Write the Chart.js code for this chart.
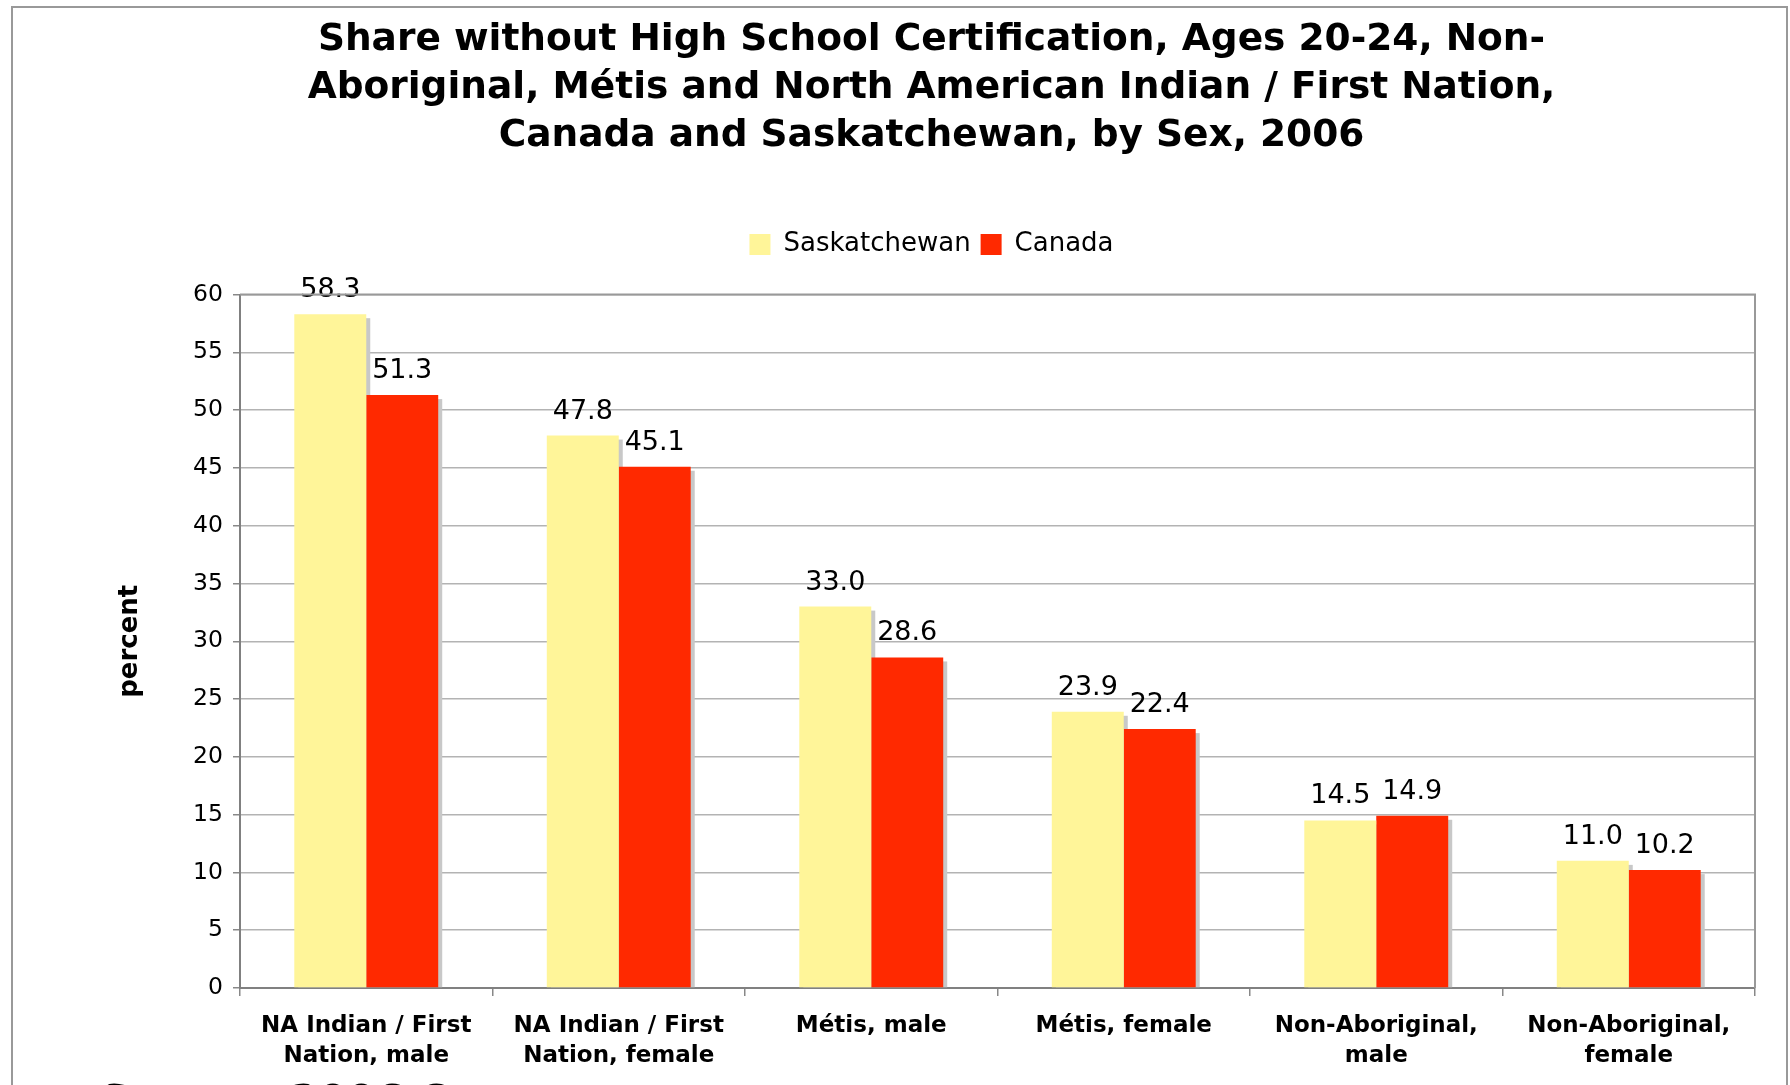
<!DOCTYPE html>
<html>
<head>
<meta charset="utf-8">
<script src="https://cdn.jsdelivr.net/npm/chart.js@4.4.1/dist/chart.umd.min.js"></script>
<style>
  html, body { margin: 0; padding: 0; background: #fff; overflow: hidden; }
  #wrap { position: relative; width: 1790px; height: 1085px; overflow: hidden; }
  #frame { position: absolute; left: 11px; top: 6px; width: 1773px; height: 1200px; border: 2px solid #999; }
  #myChart { position: absolute; left: 0; top: 0; }
  #source { position: absolute; left: 100px; top: 1080px; font: bold 41px/41px "DejaVu Sans"; color: #000; white-space: nowrap; }
</style>
</head>
<body>
<div id="wrap">
  <div id="frame"></div>
  <canvas id="myChart" width="1790" height="1085"></canvas>
  <div id="source">Source: 2006 Census</div>
</div>
<script>
// chart data
const categories = [
    ['NA Indian / First', 'Nation, male'],
    ['NA Indian / First', 'Nation, female'],
    'Métis, male',
    'Métis, female',
    ['Non-Aboriginal,', 'male'],
    ['Non-Aboriginal,', 'female']
];
const saskatchewan = [58.3, 47.8, 33.0, 23.9, 14.5, 11.0];
const canada = [51.3, 45.1, 28.6, 22.4, 14.9, 10.2];
const yMin = 0;
const yMax = 60;
const yStep = 5;

Chart.defaults.font.family = '"DejaVu Sans", Verdana, sans-serif';
Chart.defaults.color = '#000';

// grey shadow behind each bar
const barShadow = {
    id: 'barShadow',
    beforeDatasetsDraw(chart) {
        const ctx = chart.ctx;
        ctx.save();
        ctx.fillStyle = '#C8C8C8';
        chart.data.datasets.forEach((ds, i) => {
            chart.getDatasetMeta(i).data.forEach(bar => {
                const p = bar.getProps(['x', 'y', 'width', 'base'], true);
                ctx.fillRect(p.x - p.width / 2 + 4, p.y + 4, p.width, p.base - p.y - 4);
            });
        });
        ctx.restore();
    }
};

// values above bars
const valueLabels = {
    id: 'valueLabels',
    afterDatasetsDraw(chart) {
        const ctx = chart.ctx;
        ctx.save();
        ctx.font = '27px "DejaVu Sans"';
        ctx.fillStyle = '#000';
        ctx.textAlign = 'center';
        ctx.textBaseline = 'alphabetic';
        chart.data.datasets.forEach((ds, i) => {
            chart.getDatasetMeta(i).data.forEach((bar, j) => {
                ctx.fillText(ds.data[j].toFixed(1), bar.x, bar.y - 17);
            });
        });
        ctx.restore();
    }
};

// top and right edge of the plot area
const plotBorder = {
    id: 'plotBorder',
    afterDraw(chart) {
        const a = chart.chartArea;
        const ctx = chart.ctx;
        ctx.save();
        ctx.strokeStyle = '#999';
        ctx.lineWidth = 2;
        ctx.beginPath();
        ctx.moveTo(a.left, a.top);
        ctx.lineTo(a.right, a.top);
        ctx.lineTo(a.right, a.bottom);
        ctx.stroke();
        ctx.restore();
    }
};

// room between legend and plot
const legendGap = {
    id: 'legendGap',
    beforeInit(chart) {
        const fit = chart.legend.fit;
        chart.legend.fit = function () {
            fit.call(this);
            this.height += 27;
        };
    }
};

const data = {
    labels: categories,
    datasets: [{
        label: 'Saskatchewan',
        data: saskatchewan,
        backgroundColor: '#FFF599'
    }, {
        label: 'Canada',
        data: canada,
        backgroundColor: '#FF2900'
    }]
};

const config = {
    type: 'bar',
    data: data,
    plugins: [barShadow, valueLabels, plotBorder, legendGap],
    options: {
        responsive: false,
        animation: false,
        layout: {
            padding: { left: 108, right: 35, top: 0, bottom: 0 }
        },
        datasets: {
            bar: {
                categoryPercentage: 0.57,
                barPercentage: 1
            }
        },
        plugins: {
            title: {
                display: true,
                text: [
                    'Share without High School Certification, Ages 20-24, Non-',
                    'Aboriginal, Métis and North American Indian / First Nation,',
                    'Canada and Saskatchewan, by Sex, 2006'
                ],
                font: { size: 37.5, weight: 'bold', lineHeight: 1.267 },
                color: '#000',
                padding: { top: 17, bottom: 62 }
            },
            legend: {
                display: true,
                position: 'top',
                labels: {
                    boxWidth: 21,
                    boxHeight: 21,
                    padding: 10,
                    font: { size: 26 },
                    color: '#000'
                }
            },
            tooltip: { enabled: false }
        },
        scales: {
            x: {
                afterFit(scale) { scale.height = 97; },
                grid: {
                    display: true,
                    drawOnChartArea: false,
                    tickLength: 8,
                    color: '#888',
                    lineWidth: 1.5
                },
                border: { color: '#808080', width: 2 },
                ticks: {
                    padding: 15,
                    maxRotation: 0,
                    autoSkip: false,
                    font: { size: 23, weight: 'bold', lineHeight: 1.3 },
                    color: '#000'
                }
            },
            y: {
                min: yMin,
                max: yMax,
                afterFit(scale) { scale.width = 132; },
                grid: {
                    color: '#B3B3B3',
                    lineWidth: 1.5,
                    tickLength: 7,
                    tickColor: '#888'
                },
                border: { color: '#808080', width: 2 },
                ticks: {
                    stepSize: yStep,
                    padding: 10,
                    font: { size: 23.5 },
                    color: '#000'
                },
                title: {
                    display: true,
                    text: 'percent',
                    font: { size: 26, weight: 'bold' },
                    color: '#000',
                    padding: { top: 7, bottom: 0 }
                }
            }
        }
    }
};

const myChart = new Chart(
    document.getElementById('myChart'),
    config
);
</script>
</body>
</html>
